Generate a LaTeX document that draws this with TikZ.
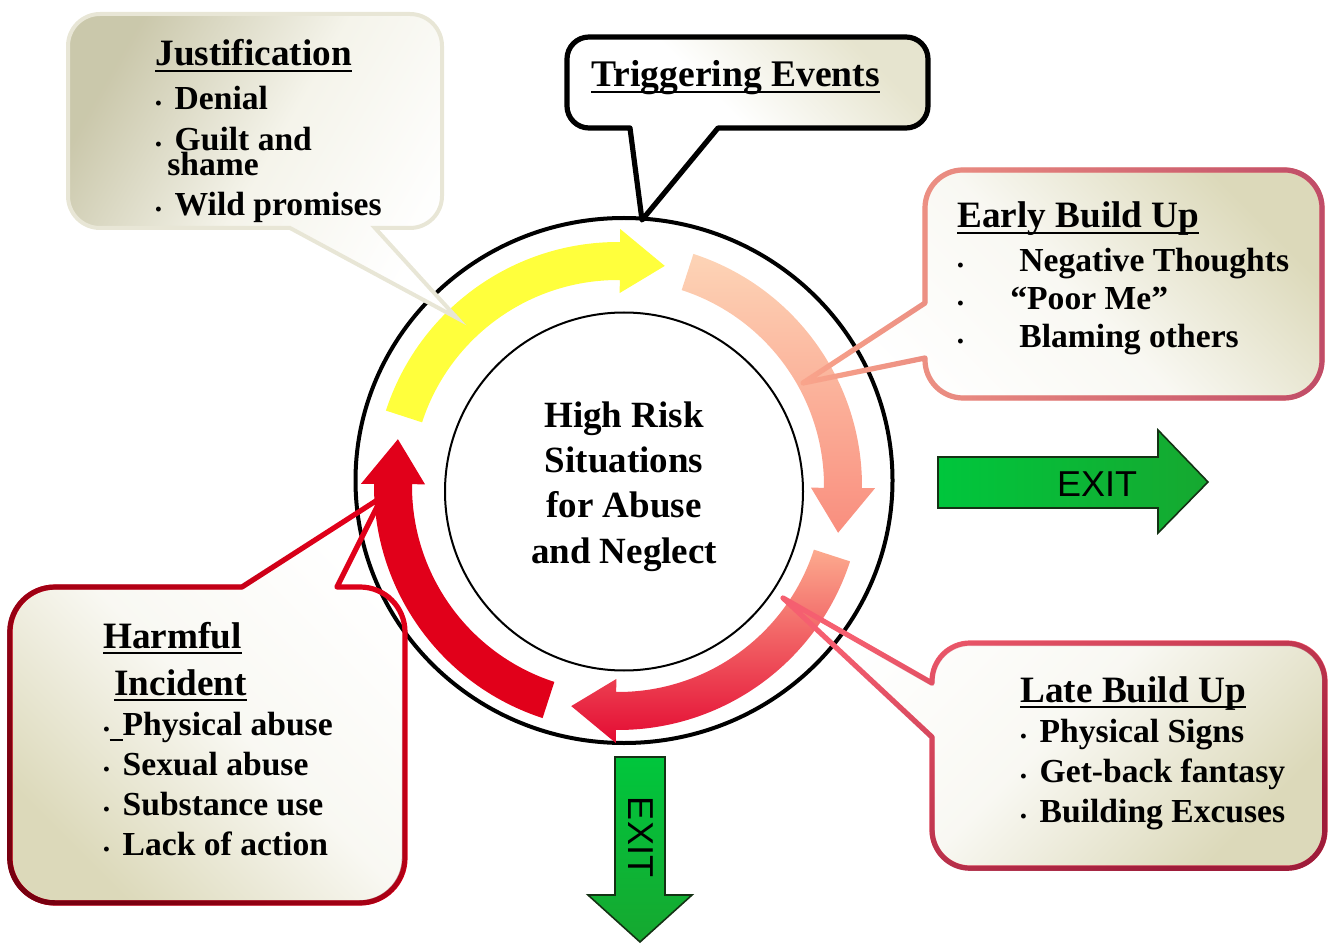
\documentclass[tikz,border=0pt]{standalone}
\usepackage{fontspec}
\setmainfont{Liberation Serif}
\newfontfamily\exitfont{Liberation Sans}
\usetikzlibrary{positioning,fadings}

\definecolor{parchment}{RGB}{220,217,186}
\definecolor{paledge}{RGB}{232,230,214}
\definecolor{salmon}{RGB}{250,165,140}
\definecolor{rosewood}{RGB}{192,76,104}
\definecolor{coral}{RGB}{245,95,112}
\definecolor{wine}{RGB}{158,28,58}
\definecolor{alarm}{RGB}{225,0,26}
\definecolor{darkalarm}{RGB}{120,0,16}
\definecolor{lemon}{RGB}{255,255,60}
\definecolor{peachtop}{RGB}{253,212,182}
\definecolor{peachbot}{RGB}{249,142,126}
\definecolor{latetop}{RGB}{252,170,142}
\definecolor{latebot}{RGB}{228,10,50}
\definecolor{exitgreen}{RGB}{0,198,60}
\definecolor{exitdark}{RGB}{22,168,48}
\definecolor{exitline}{RGB}{20,50,20}

% thick underline, small bullet and bullet with gap
\newcommand\uln[1]{\setbox0\hbox{#1}\rlap{\rule[-3.2pt]{\wd0}{1.4pt}}\box0}
\newcommand\dotmark{{\fontsize{9}{9}\selectfont\textbullet}}
\newcommand\dt{\dotmark\hspace{6.5pt}}
\newcommand\hd[1]{{\fontsize{18.6}{20}\selectfont\uln{#1}}}

% clockwise ring arrow: #1 options, #2 tail angle
\newcommand\ringarrow[2]{%
  \path[#1] ([shift={(#2:244)}]ringc) arc[start angle=#2, end angle=#2-72.5, radius=244]
    -- ([shift={(#2-72.5:257)}]ringc) -- ([shift={(#2-84:225)}]ringc)
    -- ([shift={(#2-72.5:193)}]ringc) -- ([shift={(#2-72.5:206)}]ringc)
    arc[start angle=#2-72.5, end angle=#2, radius=206] -- cycle;}

% callout outlines: tail first, then the body with its corner arcs
\newcommand\justshape{(290,716) -- (457,626) -- (375,716)
  -- (410,716) arc[start angle=-90, end angle=0, radius=32]
  -- (442,898) arc[start angle=0, end angle=90, radius=32]
  -- (100,930) arc[start angle=90, end angle=180, radius=32]
  -- (68,748) arc[start angle=180, end angle=270, radius=32] -- cycle}
\newcommand\trigshape{(718,816) -- (642,724) -- (630,816)
  -- (589,816) arc[start angle=-90, end angle=-180, radius=22]
  -- (567,885) arc[start angle=180, end angle=90, radius=22]
  -- (906,907) arc[start angle=90, end angle=0, radius=22]
  -- (928,838) arc[start angle=0, end angle=-90, radius=22] -- cycle}
\newcommand\earlyshape{(925,586) -- (803,561) -- (925,641)
  -- (925,736) arc[start angle=180, end angle=90, radius=38]
  -- (1284,774) arc[start angle=90, end angle=0, radius=38]
  -- (1322,584) arc[start angle=0, end angle=-90, radius=38]
  -- (963,546) arc[start angle=-90, end angle=-180, radius=38] -- cycle}
\newcommand\lateshape{(932,207) -- (783,346) -- (932,261)
  -- (932,263) arc[start angle=180, end angle=90, radius=38]
  -- (1287,301) arc[start angle=90, end angle=0, radius=38]
  -- (1325,114) arc[start angle=0, end angle=-90, radius=38]
  -- (970,76) arc[start angle=-90, end angle=-180, radius=38] -- cycle}
\newcommand\harmshape{(242,357) -- (382,447) -- (337,357)
  -- (360,357) arc[start angle=90, end angle=0, radius=45]
  -- (405,86) arc[start angle=0, end angle=-90, radius=45]
  -- (55,41) arc[start angle=-90, end angle=-180, radius=45]
  -- (10,312) arc[start angle=180, end angle=90, radius=45] -- cycle}

\tikzset{
  bubble/.style={line width=2.6pt, line join=round},
  items/.style={inner sep=0pt, align=left, anchor=base west,
    font=\bfseries\fontsize{16.8}{20}\selectfont},
  ring/.style={line width=2pt},
}

\begin{document}
\begin{tikzpicture}[x=0.5pt,y=0.5pt]
\useasboundingbox (0,0) rectangle (1328,944);
\coordinate (ringc) at (618,458);

% callout fills
\path[bubble, draw=black, top color=parchment!70, bottom color=white, middle color=white,
  shading angle=-45] \trigshape;
\path[top color=parchment, bottom color=white, middle color=white!82!parchment,
  shading angle=-45] \earlyshape;
\path[top color=white, bottom color=parchment, middle color=white!82!parchment,
  shading angle=45] \lateshape;
\path[top color=white, bottom color=parchment, middle color=white!82!parchment,
  shading angle=-45] \harmshape;

% the two rings
\draw[ring] (624,463.5) ellipse[x radius=268.5, y radius=262.5];
\draw[line width=1pt] (624,452.5) circle[radius=179];

% cycle arrows
\ringarrow{fill=lemon}{162}
\ringarrow{top color=peachtop, bottom color=peachbot}{72}
\ringarrow{top color=latetop, bottom color=latebot}{-18}
\ringarrow{fill=alarm}{-108}

% callout borders over the arrows
\draw[bubble, salmon] \earlyshape;
\draw[bubble, rosewood, path fading=west] \earlyshape;
\draw[bubble, coral] \lateshape;
\draw[bubble, wine, path fading=north, fading angle=45] \lateshape;
\draw[bubble, alarm] \harmshape;
\draw[bubble, darkalarm, path fading=north, fading angle=-45] \harmshape;
\path[draw=paledge, line width=2pt, top color=parchment!92!black, bottom color=white,
  middle color=white!70!parchment, shading angle=60] \justshape;

% exits
\path[draw=exitline, line width=0.8pt, left color=exitgreen, right color=exitdark]
  (938,487) -- (1158,487) -- (1158,514) -- (1208,462) -- (1158,411) -- (1158,436)
  -- (938,436) -- cycle;
\path[draw=exitline, line width=0.8pt, top color=exitgreen, bottom color=exitdark]
  (615,187) -- (665,187) -- (665,49) -- (692,49) -- (640,2) -- (588,49) -- (615,49) -- cycle;
\node[font=\exitfont\fontsize{18}{18}\selectfont] (exitright) at (1097,460) {EXIT};
\node[font=\exitfont\fontsize{18}{18}\selectfont, rotate=-90] (exitdown) at (641,107) {EXIT};

% texts
\node[align=center, font=\bfseries\fontsize{18.5}{22.6}\selectfont] (hub) at (624,457.5)
  {High Risk\\Situations\\for Abuse\\and Neglect};
\node[items, font=\bfseries\fontsize{18.8}{20}\selectfont] (trigtext) at (591,857)
  {\uln{Triggering Events}};
\node[items, font=\bfseries\fontsize{16.8}{19.5}\selectfont] (justtext) at (155,728)
  {\hd{Justification}\\[2.5pt] \dt Denial\\[1pt] \dt Guilt and\\[-7pt] \hspace*{6pt}shame\\[0.5pt]
   \dt Wild promises};
\node[items, font=\bfseries\fontsize{16.8}{19}\selectfont] (earlytext) at (957,596)
  {\hd{Early Build Up}\\[3pt] \makebox[31pt][l]{\dotmark}Negative Thoughts\\
   \makebox[26.5pt][l]{\dotmark}“Poor Me”\\ \makebox[31pt][l]{\dotmark}Blaming others};
\node[items] (latetext) at (1020,122)
  {\hd{Late Build Up}\\ \dt Physical Signs\\ \dt Get-back fantasy\\ \dt Building Excuses};
\node[items] (harmtext) at (103,89)
  {\hd{Harmful}\\[3.5pt] \hspace*{5.5pt}\hd{Incident}\\
   \dotmark\uln{\hspace*{6.5pt}}Physical abuse\\ \dt Sexual abuse\\ \dt Substance use\\ \dt Lack of action};
\end{tikzpicture}
\end{document}
